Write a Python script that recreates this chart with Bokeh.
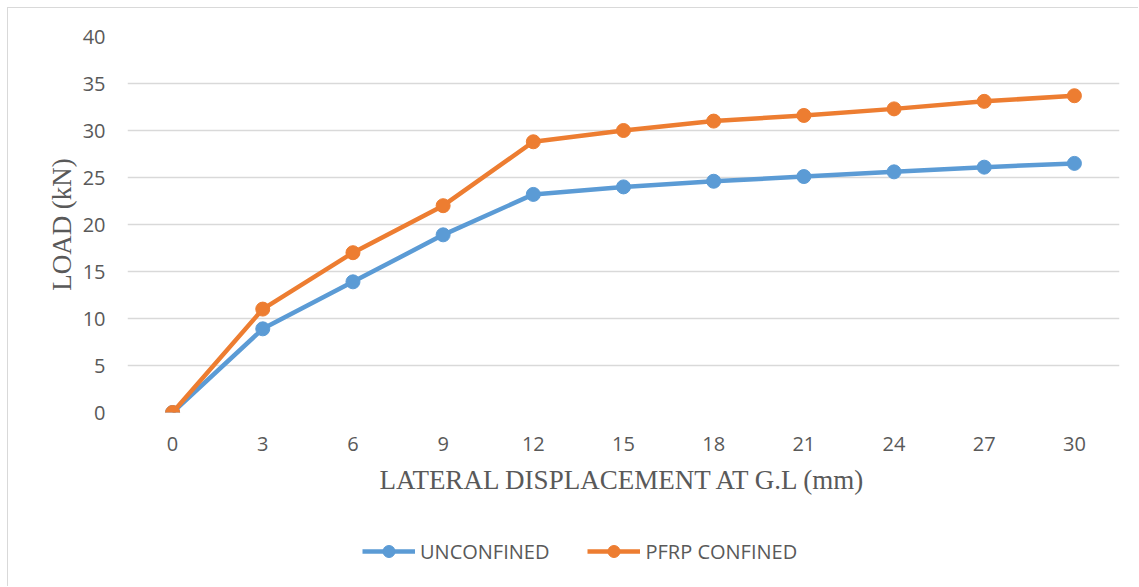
from bokeh.plotting import figure
from bokeh.layouts import column
from bokeh.models import FixedTicker, Legend, LegendItem, Range1d
from bokeh.embed import file_html
from bokeh.resources import INLINE

displacement = [0, 3, 6, 9, 12, 15, 18, 21, 24, 27, 30]
unconfined = [0, 8.9, 13.9, 18.9, 23.2, 24.0, 24.6, 25.1, 25.6, 26.1, 26.5]
pfrp_confined = [0, 11.0, 17.0, 22.0, 28.8, 30.0, 31.0, 31.6, 32.3, 33.1, 33.7]
y_ticks = [0, 5, 10, 15, 20, 25, 30, 35, 40]
series_names = ["UNCONFINED", "PFRP CONFINED"]

BLUE = "#5B9BD5"
ORANGE = "#ED7D31"
GRAY = "#595959"
W = 1131

p = figure(width=W, height=504, output_backend="svg", toolbar_location=None,
           x_range=Range1d(-1.5, 31.5), y_range=Range1d(0, 40),
           min_border_left=119, min_border_right=20, min_border_top=28, min_border_bottom=100)
p.styles = {"border-left": "1px solid #d9d9d9", "border-top": "1px solid #d9d9d9",
            "margin-left": "7px", "margin-top": "7px"}
p.outline_line_color = None

p.line(displacement, unconfined, line_color=BLUE, line_width=4.5)
p.scatter(displacement, unconfined, size=14, fill_color=BLUE, line_color=BLUE)
p.line(displacement, pfrp_confined, line_color=ORANGE, line_width=4.5)
p.scatter(displacement, pfrp_confined, size=14, fill_color=ORANGE, line_color=ORANGE)

p.xaxis.ticker = FixedTicker(ticks=displacement)
p.yaxis.ticker = FixedTicker(ticks=y_ticks)
p.xgrid.grid_line_color = None
p.ygrid.grid_line_color = "#d9d9d9"
p.ygrid.grid_line_width = 1.5

for ax in (p.xaxis, p.yaxis):
    ax.axis_line_color = None
    ax.major_tick_line_color = None
    ax.minor_tick_line_color = None
    ax.major_label_text_font = "Open Sans"
    ax.major_label_text_font_size = "20px"
    ax.major_label_text_color = GRAY
    ax.axis_label_text_font = "Liberation Serif"
    ax.axis_label_text_font_size = "27px"
    ax.axis_label_text_font_style = "normal"
    ax.axis_label_text_color = GRAY

p.xaxis.axis_label = "LATERAL DISPLACEMENT AT G.L (mm)"
p.yaxis.axis_label = "LOAD (kN)"
p.xaxis.major_label_standoff = 18
p.yaxis.major_label_standoff = 16
p.xaxis.axis_label_standoff = 11
p.yaxis.axis_label_standoff = 3

# legend strip below the chart (series drawn out of view, only the legend shows)
leg = figure(width=W, height=75, output_backend="svg", toolbar_location=None,
             x_range=Range1d(1000, 2000), y_range=Range1d(1000, 1075),
             min_border=0, min_border_left=0, min_border_right=0,
             min_border_top=0, min_border_bottom=0,
             x_axis_type=None, y_axis_type=None)
leg.styles = {"border-left": "1px solid #d9d9d9", "margin-left": "7px"}
leg.outline_line_color = None
leg.xgrid.grid_line_color = None
leg.ygrid.grid_line_color = None
lr1 = leg.line(displacement, unconfined, line_color=BLUE, line_width=4.5)
lc1 = leg.scatter(displacement, unconfined, size=14, fill_color=BLUE, line_color=BLUE)
lr2 = leg.line(displacement, pfrp_confined, line_color=ORANGE, line_width=4.5)
lc2 = leg.scatter(displacement, pfrp_confined, size=14, fill_color=ORANGE, line_color=ORANGE)

legend = Legend(items=[LegendItem(label=series_names[0], renderers=[lr1, lc1]),
                       LegendItem(label=series_names[1], renderers=[lr2, lc2])],
                orientation="horizontal", location=(235, 20),
                glyph_width=53, glyph_height=30, label_standoff=5, spacing=38,
                label_text_font="Open Sans", label_text_font_size="20px",
                label_text_color=GRAY, border_line_color=None, background_fill_alpha=0,
                padding=0, margin=0)
leg.add_layout(legend, "center")

layout = column(p, leg, spacing=0)
open("out.html", "w").write(file_html(layout, INLINE))
